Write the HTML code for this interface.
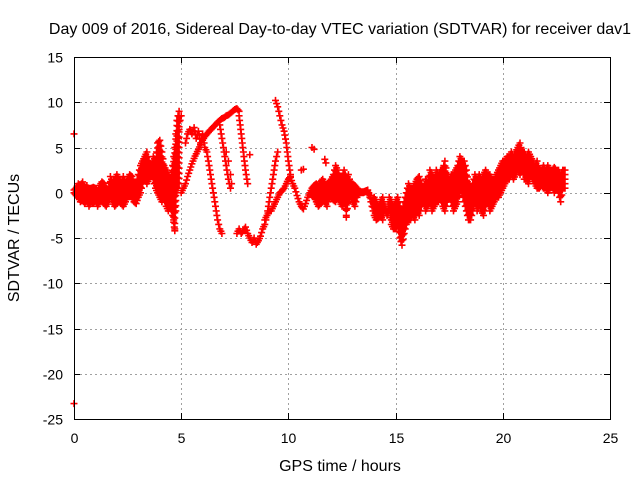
<!DOCTYPE html>
<html><head><meta charset="utf-8"><style>
body{margin:0;background:#fff}
svg{display:block;font-family:"Liberation Sans",sans-serif}
</style></head><body>
<svg id="chart" width="640" height="480">
<rect width="640" height="480" fill="#fff"/>
<text x="340" y="34" font-size="16" text-anchor="middle" fill="#000">Day 009 of 2016, Sidereal Day-to-day VTEC variation (SDTVAR) for receiver dav1</text>
<text x="340" y="471" font-size="16" text-anchor="middle" fill="#000">GPS time / hours</text>
<text transform="translate(19,238) rotate(-90)" font-size="16" text-anchor="middle" fill="#000">SDTVAR / TECUs</text>
<g id="grid"></g>
<g id="ticks"></g>
<g id="points"></g>
<rect x="74.5" y="57.5" width="536" height="362" fill="none" stroke="#000" stroke-width="1"/>
</svg>
<script>
const xTicks=[0,5,10,15,20,25];
const yTicks=[15,10,5,0,-5,-10,-15,-20,-25];
// main band, t from 0.0 step 0.1 (0.0-4.9)
const earlyLo=[0,-0.3,-0.5,-1.0,-0.8,-1.2,-0.8,-1.5,-1.0,-1.2,-0.8,-1.5,-1.0,-0.8,-1.2,-1.5,-1.0,-0.5,-1.0,-1.5,-1.2,-0.8,-1.2,-1.5,-1.0,-0.5,-0.3,-0.5,-1.0,-1.2,-0.5,0,1.0,1.5,1.0,1.5,2.0,1.5,0.5,0,-0.5,-1.0,-0.5,-1.5,-2.0,-1.5,-2.5,-4.0,0,1.0];
const earlyHi=[0.3,0.5,1.0,0.8,1.2,0.5,0.8,0.3,0.5,0.6,0.5,0.2,0.8,1.2,1.0,0.5,0.3,1.8,1.2,1.5,2.0,1.5,1.2,1.8,1.0,1.5,2.0,1.8,1.2,1.0,2.0,3.0,3.5,4.0,4.5,3.5,3.0,4.0,3.5,5.5,5.8,4.5,3.0,2.5,2.0,1.5,3.0,5.0,8.0,9.0];
// late main band, t from 11.1 step 0.1
const lateLo=[-0.3,-0.5,-1.0,-1.5,-1.2,-0.8,-1.0,-1.5,-0.5,-0.5,-0.8,-1.0,-0.5,-1.0,-1.5,-1.0,-2.5,-1.0,-0.5,-1.0,-1.5,-0.5,0,0,0,0.1,0.2,-0.5,-1.5,-2.5,-3.0,-2.8,-2.5,-3.0,-2.0,-2.5,-2.0,-3.5,-4.0,-4.0,-3.5,-5.0,-5.8,-4.5,-3.5,-3.0,-3.0,-2.5,-3.0,-2.0,-2.5,-1.5,-1.0,-2.0,-1.5,-1.0,-2.0,-1.5,-1.0,-1.0,-0.5,-1.5,-2.0,-1.0,-0.5,-1.0,-2.0,-1.5,-1.0,0.5,0,-1.0,-2.0,-3.0,-3.0,-2.0,-1.0,-2.0,-1.5,-2.0,-2.5,-1.5,-1.0,-2.0,-1.5,-1.0,-0.5,-0.5,0,0.5,1.0,1.5,1.5,2.0,1.5,2.0,2.5,2.0,2.5,1.5,1.5,1.0,2.0,1.5,1.0,0.5,0.5,0.8,0.5,0.5,0,0.5,0.8,0,0.5,0,-1.0,0.5,0.5];
const lateHi=[0.5,0.8,1.0,0.5,1.2,1.5,1.0,0.8,1.2,1.5,2.0,3.0,2.5,1.5,1.8,2.5,1.5,2.0,1.0,1.0,0.8,0.5,0.2,0.1,0.1,0.2,0.3,-0.3,-1.0,-0.5,-1.0,-1.5,-1.0,-0.5,-1.5,-2.0,-0.5,-1.0,-1.5,-1.0,-0.5,-1.5,-2.0,-1.0,0,1.0,0.5,0.5,1.0,1.5,1.8,1.0,0.5,1.5,1.0,2.5,2.0,1.5,2.5,2.0,2.5,2.5,3.5,2.0,1.5,2.0,2.0,2.5,3.0,4.0,3.5,3.5,2.5,1.0,0.5,1.0,2.0,1.5,2.0,1.5,2.0,2.5,2.0,2.0,1.5,1.5,2.0,2.5,3.0,3.5,3.5,4.0,4.0,4.5,4.0,4.5,5.0,5.5,4.5,4.5,4.0,4.5,4.0,3.5,3.0,3.5,2.5,2.5,3.0,2.5,3.0,2.5,2.5,2.8,2.5,2.5,2.0,2.5,2.5];
// feature tracks: start time, values (step 0.1)
const riseVals=[0,0.5,1.0,1.8,2.5,3.2,3.8,4.3,4.8,5.3,5.8,6.2,6.5,6.8,7.0,7.3,7.5,7.8,8.0,8.2,8.3,8.5,8.6,8.8,9.0,9.2,9.3,9.0];
const blobVals=[5.5,6.5,7.0,6.5,7.2,6.0,6.8,5.5,6.5,5.0,4.5];
const fallAVals=[4.5,3.0,1.5,0,-1.5,-3.0,-4.0,-4.5];
const fallBVals=[7.5,6.0,4.5,3.0,1.5,0.5];
const fallCVals=[8.5,6.5,4.5,2.5,1.0];
const bottomVals=[-4.5,-4.0,-4.5,-4.2,-3.8,-4.5,-5.0,-5.5,-5.0,-5.7,-5.3,-4.8,-4.0,-3.5];
const rise2Vals=[-3.5,-2.5,-1.0,0.5,2.0,3.5,4.5];
const diagVals=[-3.0,-2.5,-2.0,-2.0,-1.5,-1.0,-0.5,0,0.2,0.5,1.0,1.5,1.8];
const peakVals=[10.2,9.5,8.5,7.5,6.8,5.5,3.5,2.0];
const vVals=[1.7,1.0,0.5,-0.3,-1.0,-1.5,-1.8,-1.2,-0.5,0,0.5];
const trackStarts=[5.0,5.2,6.2,6.8,7.7,7.6,8.9,8.9,9.4,10.1];
const spikeUpT=[4.75,4.78,4.8,4.82,4.85,4.88,4.9,4.95,5.0];
const spikeUpV=[1,2,3,4,5,6,7,8,8.5];
const spikeDownT=[4.6,4.62,4.65,4.68,4.7];
const spikeDownV=[-1,-2,-3,-3.8,-4.2];
const isoT=[0,0,8.2,10.6,10.7,11.1,11.2,11.7,11.75,7.1,7.2,7.3,7.35,12.7,22.7];
const isoV=[6.5,-23.3,4.2,2.5,2.6,5.0,4.8,3.7,3.3,4.5,3.5,2.0,1.0,-2.7,-1.0];

const X0=74,X1=610,Y0=419,Y1=57;
const xs=t=>X0+(t-0)/(25-0)*(X1-X0);
const ys=v=>Y0-(v-(-25))/(15-(-25))*(Y0-Y1);
const NS="http://www.w3.org/2000/svg";
const grid=document.getElementById('grid'),ticks=document.getElementById('ticks'),pts=document.getElementById('points');
function line(g,x1,y1,x2,y2,st,dash){const l=document.createElementNS(NS,'line');l.setAttribute('x1',x1);l.setAttribute('y1',y1);l.setAttribute('x2',x2);l.setAttribute('y2',y2);l.setAttribute('stroke',st);if(dash)l.setAttribute('stroke-dasharray',dash);g.appendChild(l);return l;}
function txt(x,y,s,anchor){const t=document.createElementNS(NS,'text');t.setAttribute('x',x);t.setAttribute('y',y);t.setAttribute('font-size','14');t.setAttribute('text-anchor',anchor);t.textContent=s;ticks.appendChild(t);return t;}
xTicks.forEach(v=>{const x=Math.round(xs(v))+0.5;
 if(v>0&&v<25){const g=line(grid,x,58,x,419,'#a0a0a0','2,3');}
 line(ticks,x,419,x,413,'#000');line(ticks,x,57,x,63,'#000');
 const t=txt(x,443,String(v),'middle');});
yTicks.forEach(v=>{const y=Math.round(ys(v))+0.5;
 if(v<15&&v>-25){const g=line(grid,75,y,610,y,'#a0a0a0','2,3');}
 line(ticks,74,y,80,y,'#000');line(ticks,610,y,604,y,'#000');
 const t=txt(63,y+5,String(v),'end');});
let d='';
function plus(t,v){const x=xs(t),y=ys(v);d+='M'+(x-3.5).toFixed(1)+' '+y.toFixed(1)+'h7M'+x.toFixed(1)+' '+(y-3.5).toFixed(1)+'v7';}
// band: fill between lo and hi with markers, densified in time
function band(start,lo,hi){
  for(let i=0;i<lo.length;i++){
    const n=i+1<lo.length?2:1;
    for(let k=0;k<n;k++){
      const f=k/2;
      const l=k?(lo[i]+lo[i+1])/2:lo[i], h=k?(hi[i]+hi[i+1])/2:hi[i];
      const t=start+(i+f)*0.1;
      const span=h-l, steps=Math.max(1,Math.ceil(span/0.6));
      for(let s=0;s<=steps;s++) plus(t,l+span*s/steps);
    }
  }
}
function track(start,arr){
  for(let i=0;i<arr.length;i++){
    plus(start+i*0.1,arr[i]);
    if(i+1<arr.length){
      const steps=Math.max(2,Math.ceil(Math.abs(arr[i+1]-arr[i])/0.5));
      for(let s=1;s<steps;s++) plus(start+(i+s/steps)*0.1,arr[i]+(arr[i+1]-arr[i])*s/steps);
    }
  }
}
band(0,earlyLo,earlyHi);
band(11.1,lateLo,lateHi);
[riseVals,blobVals,fallAVals,fallBVals,fallCVals,bottomVals,rise2Vals,diagVals,peakVals,vVals].forEach((arr,k)=>track(trackStarts[k],arr));
spikeUpT.forEach((t,i)=>plus(t,spikeUpV[i]));
spikeDownT.forEach((t,i)=>plus(t,spikeDownV[i]));
isoT.forEach((t,i)=>plus(t,isoV[i]));
const p=document.createElementNS(NS,'path');
p.setAttribute('d',d);p.setAttribute('stroke','#ff0000');p.setAttribute('stroke-width','1.6');p.setAttribute('fill','none');


pts.appendChild(p);
</script>
</body></html>
